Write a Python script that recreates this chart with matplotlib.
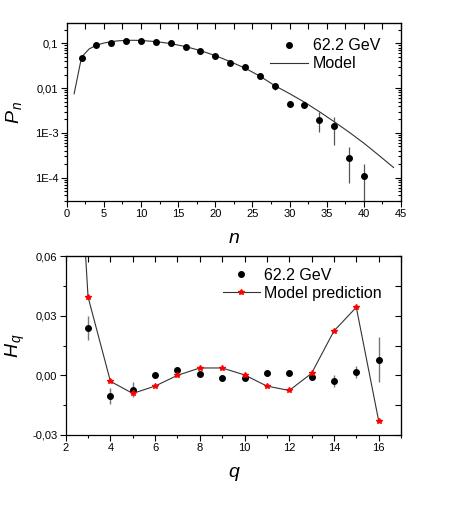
import matplotlib
matplotlib.use("Agg")
import matplotlib.pyplot as plt
from matplotlib.ticker import MultipleLocator, FixedLocator, LogLocator, NullFormatter, FixedFormatter, NullLocator
from matplotlib.lines import Line2D

plt.rcParams['font.family'] = ['Liberation Sans', 'DejaVu Sans']
plt.rcParams['mathtext.fontset'] = 'custom'
plt.rcParams['mathtext.it'] = 'Liberation Sans:italic'
plt.rcParams['mathtext.rm'] = 'Liberation Sans'

# ---- top panel data ----
n_data = [2, 4, 6, 8, 10, 12, 14, 16, 18, 20, 22, 24, 26, 28, 30, 32, 34, 36, 38, 40]
p_data = [0.047, 0.0916, 0.103, 0.111, 0.114, 0.109, 0.100, 0.084, 0.066, 0.053,
          0.036, 0.029, 0.0183, 0.0109, 0.0045, 0.0043, 0.00196, 0.00141, 2.75e-4, 1.1e-4]
p_err = [0.005, 0.008, 0.004, 0.003, 0.003, 0.003, 0.002, 0.002, 0.002, 0.002,
         0.0015, 0.0015, 0.001, 0.0018, 0.0007, 0.0007, 0.0009, 0.00087, 2.0e-4, 0.95e-4]
n_model = [1, 2, 3, 4, 5, 6, 7, 8, 9, 10, 12, 14, 16, 18, 20, 22, 24, 26, 28, 30,
           32, 34, 36, 38, 40, 42, 44]
p_model = [0.00746, 0.0494, 0.0746, 0.0916, 0.1016, 0.1097, 0.1143, 0.1167, 0.1173, 0.1161,
           0.1097, 0.0990, 0.0848, 0.0690, 0.0533, 0.0392, 0.0280, 0.01856, 0.01138, 0.00753,
           0.00486, 0.00298, 0.00178, 0.00104, 5.89e-4, 3.17e-4, 1.68e-4]
top_yticks = [0.1, 0.01, 1e-3, 1e-4]
top_yticklabels = ['0,1', '0,01', '1E-3', '1E-4']

# ---- bottom panel data ----
q_data = [3, 4, 5, 6, 7, 8, 9, 10, 11, 12, 13, 14, 15, 16]
h_data = [0.0238, -0.0104, -0.0072, 0.0002, 0.0028, 0.0008, -0.0013, -0.0012,
          0.0010, 0.0013, -0.0009, -0.0027, 0.0018, 0.0079]
h_err = [0.0061, 0.0040, 0.0037, 0.0005, 0.0010, 0.0005, 0.0005, 0.0006,
         0.0005, 0.0005, 0.0006, 0.0031, 0.0030, 0.0115]
q_model = [2, 3, 4, 5, 6, 7, 8, 9, 10, 11, 12, 13, 14, 15, 16]
h_model = [0.227, 0.0394, -0.0030, -0.0091, -0.0054, 0.0000, 0.0037, 0.0037, 0.0002,
           -0.0054, -0.0076, 0.0010, 0.0223, 0.0342, -0.0228]
bot_yticks = [-0.03, 0.0, 0.03, 0.06]
bot_yticklabels = ['-0,03', '0,00', '0,03', '0,06']

fig = plt.figure(figsize=(4.58, 5.18), dpi=100)
W, H = 458, 518

def rect(l, t, r, b):
    return [l / W, 1 - b / H, (r - l) / W, (b - t) / H]

tick_fs = 8
leg_fs = 11.5

def style_axes(ax):
    for s in ax.spines.values():
        s.set_linewidth(0.9)
    ax.tick_params(which='both', direction='out', top=False, right=False,
                   labelsize=tick_fs, width=0.8, pad=2)
    ax.tick_params(which='major', length=4)
    ax.tick_params(which='minor', length=2.5)

# ---------- top panel ----------
ax1 = fig.add_axes(rect(66.7, 22.7, 401, 201))
ax1.set_yscale('log')
ax1.plot(n_model, p_model, color='#333333', lw=0.8, zorder=2)
ax1.errorbar(n_data, p_data, yerr=p_err, fmt='o', color='black', ms=4,
             ecolor='#555555', elinewidth=0.9, capsize=0, zorder=3)
ax1.set_xlim(0, 45)
ax1.set_ylim(3.0e-5, 0.29)
ax1.xaxis.set_major_locator(MultipleLocator(5))
ax1.xaxis.set_minor_locator(MultipleLocator(2.5))
ax1.yaxis.set_major_locator(FixedLocator(top_yticks))
ax1.yaxis.set_major_formatter(FixedFormatter(top_yticklabels))
ax1.yaxis.set_minor_locator(LogLocator(base=10, subs=range(2, 10)))
ax1.yaxis.set_minor_formatter(NullFormatter())
style_axes(ax1)
sx = ax1.secondary_xaxis('top')
sx.xaxis.set_major_locator(MultipleLocator(2.5))
sx.tick_params(direction='in', length=4, width=0.8, labeltop=False)
sx.xaxis.set_minor_locator(NullLocator())
sy = ax1.secondary_yaxis('right')
sy.yaxis.set_major_locator(FixedLocator(top_yticks))
sy.yaxis.set_minor_locator(LogLocator(base=10, subs=range(2, 10)))
sy.tick_params(which='both', direction='in', width=0.8, labelright=False)
sy.tick_params(which='major', length=4)
sy.tick_params(which='minor', length=2.5)
ax1.set_xlabel('n', fontsize=14, style='italic', labelpad=8)
ax1.set_ylabel(r'$P_{\,n}$', fontsize=14, labelpad=8)
h1 = [Line2D([], [], marker='o', ls='none', color='black', ms=4),
      Line2D([], [], color='#333333', lw=0.8)]
ax1.legend(h1, ['62.2 GeV', 'Model'], loc='upper left', frameon=False,
           fontsize=leg_fs, handlelength=2.4, handletextpad=0.3, labelspacing=0.2,
           borderpad=0, borderaxespad=0, bbox_to_anchor=(0.608, 0.913))

# ---------- bottom panel ----------
ax2 = fig.add_axes(rect(65.7, 256, 401, 435))
ax2.plot(q_model, h_model, color='#333333', lw=0.8, zorder=2)
ax2.plot(q_model, h_model, ls='none', marker='*', color='red', ms=4, zorder=4)
ax2.errorbar(q_data, h_data, yerr=h_err, fmt='o', color='black', ms=4,
             ecolor='#777777', elinewidth=1.0, capsize=0, zorder=3)
ax2.set_xlim(2, 17)
ax2.set_ylim(-0.03, 0.06)
ax2.xaxis.set_major_locator(MultipleLocator(2))
ax2.xaxis.set_minor_locator(MultipleLocator(1))
ax2.yaxis.set_major_locator(FixedLocator(bot_yticks))
ax2.yaxis.set_major_formatter(FixedFormatter(bot_yticklabels))
ax2.yaxis.set_minor_locator(MultipleLocator(0.015))
style_axes(ax2)
sx2 = ax2.secondary_xaxis('top')
sx2.xaxis.set_major_locator(MultipleLocator(1))
sx2.xaxis.set_minor_locator(NullLocator())
sx2.tick_params(direction='in', length=4, width=0.8, labeltop=False)
sy2 = ax2.secondary_yaxis('right')
sy2.yaxis.set_major_locator(MultipleLocator(0.015))
sy2.yaxis.set_minor_locator(NullLocator())
sy2.tick_params(direction='in', length=4, width=0.8, labelright=False)
ax2.set_xlabel('q', fontsize=14, style='italic', labelpad=8)
ax2.set_ylabel(r'$H_{\,q}$', fontsize=14, labelpad=4)
h2 = [Line2D([], [], marker='o', ls='none', color='black', ms=4),
      Line2D([], [], color='#333333', lw=0.8, marker='*', mfc='red', mec='red', ms=4)]
ax2.legend(h2, ['62.2 GeV', 'Model prediction'], loc='upper left', frameon=False,
           fontsize=leg_fs, handlelength=2.3, handletextpad=0.3, labelspacing=0.2,
           borderpad=0, borderaxespad=0, bbox_to_anchor=(0.469, 0.934))

fig.savefig('out.png', dpi=100)
